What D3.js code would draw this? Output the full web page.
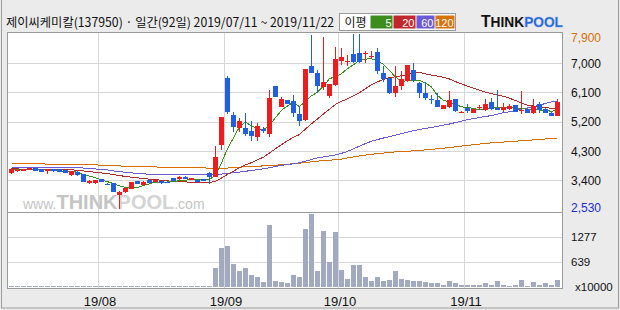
<!DOCTYPE html>
<html>
<head>
<meta charset="utf-8">
<script src="https://cdnjs.cloudflare.com/ajax/libs/d3/7.8.5/d3.min.js"></script>
<style>
  body { margin: 0; background: #ebebeb; }
  svg { display: block; }
  text { font-family: "Liberation Sans", Arial, sans-serif; }
</style>
</head>
<body>
<svg id="chart" width="620" height="310"></svg>
<script>
// ---- data ----
var stockName = "제이씨케미칼(137950) · 일간(92일) 2019/07/11 ~ 2019/11/22";

var tradeDays = [
  "07/11","07/12","07/15","07/16","07/17","07/18","07/19","07/22","07/23","07/24",
  "07/25","07/26","07/29","07/30","07/31","08/01","08/02","08/05","08/06","08/07",
  "08/08","08/09","08/12","08/13","08/14","08/16","08/19","08/20","08/21","08/22",
  "08/23","08/26","08/27","08/28","08/29","08/30","09/02","09/03","09/04","09/05",
  "09/06","09/09","09/10","09/11","09/16","09/17","09/18","09/19","09/20","09/23",
  "09/24","09/25","09/26","09/27","09/30","10/01","10/02","10/04","10/07","10/08",
  "10/10","10/11","10/14","10/15","10/16","10/17","10/18","10/21","10/22","10/23",
  "10/24","10/25","10/28","10/29","10/30","10/31","11/01","11/04","11/05","11/06",
  "11/07","11/08","11/11","11/12","11/13","11/14","11/15","11/18","11/19","11/20",
  "11/21","11/22"
];

var openP = [
  3650,3700,3710,3730,3780,3750,3710,3750,3750,3730,
  3570,3660,3600,3320,3320,3440,3310,3320,2960,3040,
  3160,3390,3270,3420,3370,3390,3370,3470,3440,3520,
  3420,3420,3440,3650,3520,4490,6540,5410,5030,5030,
  4920,4750,4990,4830,6300,5670,5870,5840,5440,5260,
  6920,6710,6280,6000,6350,7080,7030,7290,7310,7290,
  7220,7340,6710,6540,6100,6300,6470,6790,6400,6100,
  5900,5890,5600,5670,5900,5500,5640,5490,5630,5570,
  5820,5620,5570,5600,5720,5560,5600,5490,5750,5590,
  5490,5390
];
var highP = [
  3780,3750,3760,3790,3800,3760,3760,3770,3760,3740,
  3710,3700,3610,3410,3430,3450,3330,3330,3070,3190,
  3360,3400,3380,3430,3430,3400,3380,3480,3530,3530,
  3480,3430,3450,3660,4470,5360,6620,5520,5310,5490,
  5240,5160,5060,6180,6300,5980,5880,6030,5690,6830,
  7870,6790,7800,6370,7510,7460,7250,7900,7900,7390,
  7390,7460,6920,6560,6920,6760,6960,7000,6430,6420,
  6030,6080,5730,6150,5900,5540,5750,5600,5720,5920,
  5950,6180,5770,5750,5730,6150,5610,5920,5820,5630,
  5500,5900
];
var lowP = [
  3620,3680,3690,3720,3700,3670,3600,3680,3670,3640,
  3560,3540,3360,3300,3300,3360,3280,3050,2530,3030,
  3150,3290,3260,3330,3360,3310,3350,3390,3430,3450,
  3410,3340,3390,3300,3500,4340,5440,4900,4900,4770,
  4630,4630,4870,4730,5970,5650,5740,5340,5090,5230,
  6700,6100,6180,5930,6300,6950,6930,7020,7010,7020,
  7120,6660,6440,6070,5980,6180,6440,6420,5940,5870,
  5740,5660,5590,5620,5510,5500,5490,5470,5560,5540,
  5570,5570,5510,5570,5510,5460,5480,5460,5490,5480,
  5380,5380
];
var closeP = [
  3750,3730,3750,3780,3710,3680,3750,3690,3680,3650,
  3700,3570,3370,3400,3420,3370,3300,3060,3060,3180,
  3350,3300,3370,3340,3420,3320,3365,3400,3520,3460,
  3470,3350,3400,3500,4130,5360,5520,5060,5230,4830,
  4770,5080,4910,5930,5980,5900,5750,5490,5240,6830,
  6710,6310,6440,6360,7130,7180,7080,7050,7030,7310,
  7240,6770,6510,6080,6300,6520,6950,6490,6100,5930,
  5890,5670,5720,5890,5540,5520,5550,5600,5650,5750,
  5600,5570,5670,5700,5520,5580,5490,5690,5570,5490,
  5390,5820
];

// volume, unit x10000
var volume = [
  22,30,25,18,27,24,20,26,23,19,
  28,31,35,26,22,24,21,33,38,27,
  25,22,20,24,19,21,18,22,25,20,
  23,19,21,30,501,1013,1064,604,399,476,
  315,246,118,1601,143,118,92,297,246,1499,
  1875,399,1440,655,1422,442,212,553,553,246,
  143,246,143,169,417,212,187,143,160,135,
  92,92,59,143,92,59,58,61,57,92,
  60,143,59,33,59,169,33,118,59,92,
  59,169
];

// moving averages as drawn (5 / 20 / 60 / 120 days)
var ma5 = [
  3740,3735,3740,3745,3744,3730,3734,3722,3702,3690,
  3694,3658,3594,3538,3492,3426,3372,3310,3242,3194,
  3190,3190,3252,3308,3356,3350,3363,3369,3405,3413,
  3443,3440,3440,3436,3570,3948,4382,4714,5060,5200,
  5082,4994,4964,5104,5334,5560,5694,5810,5672,5842,
  6004,6116,6306,6530,6590,6684,6838,6960,7094,7130,
  7142,7080,6972,6782,6580,6436,6472,6468,6472,6398,
  6272,6016,5862,5820,5742,5668,5644,5620,5572,5614,
  5630,5634,5648,5658,5612,5608,5592,5596,5570,5564,
  5526,5592
];
var ma20 = [
  3760,3760,3758,3757,3755,3752,3750,3748,3745,3742,
  3735,3720,3700,3680,3660,3640,3615,3590,3560,3530,
  3510,3489,3470,3448,3433,3415,3396,3381,3373,3364,
  3352,3341,3343,3348,3383,3483,3594,3694,3802,3885,
  3956,4045,4122,4251,4379,4508,4628,4732,4818,4987,
  5149,5297,5449,5592,5742,5833,5911,6010,6100,6224,
  6348,6432,6512,6560,6590,6620,6660,6690,6720,6675,
  6640,6610,6570,6520,6440,6370,6300,6240,6180,6120,
  6070,6030,5990,5930,5860,5780,5720,5690,5660,5640,
  5625,5620
];
var ma60 = [
  3810,3810,3810,3808,3808,3808,3806,3806,3805,3805,
  3804,3802,3790,3775,3760,3745,3730,3700,3680,3660,
  3640,3625,3612,3600,3592,3586,3582,3580,3578,3577,
  3576,3576,3578,3582,3590,3605,3625,3645,3665,3690,
  3715,3740,3765,3800,3840,3870,3895,3920,3950,4000,
  4050,4100,4130,4160,4190,4240,4300,4380,4460,4540,
  4610,4665,4710,4750,4800,4845,4890,4935,4970,5005,
  5035,5070,5105,5140,5185,5230,5270,5305,5340,5370,
  5400,5445,5485,5515,5550,5595,5630,5670,5720,5770,
  5815,5840
];
var ma120 = [
  3930,3930,3930,3930,3930,3930,3900,3900,3900,3900,
  3900,3900,3900,3900,3900,3860,3860,3860,3860,3830,
  3830,3830,3830,3830,3830,3800,3800,3800,3800,3800,
  3800,3800,3800,3780,3780,3780,3790,3800,3815,3828,
  3835,3845,3855,3860,3875,3890,3905,3925,3940,3960,
  3980,4000,4015,4030,4045,4065,4100,4130,4160,4185,
  4210,4235,4250,4270,4285,4295,4305,4318,4330,4345,
  4360,4380,4400,4420,4440,4462,4483,4505,4525,4544,
  4560,4572,4585,4600,4613,4626,4640,4653,4667,4680,
  4697,4700
];

var priceTicks = [7000, 6100, 5200, 4300, 3400];
var priceHigh = 7900, priceLow = 2530;
var volTicks = [1277, 639];
var volTop = 1916;
var maLegend = [
  { label: "5",   color: "#3c8c1e" },
  { label: "20",  color: "#c1272d" },
  { label: "60",  color: "#6a5ad8" },
  { label: "120", color: "#d9700a" }
];
var maLineColors = ["#3c8c1e", "#b52a2a", "#6a5ad8", "#d96c00"];

// ---- layout ----
var svg = d3.select('#chart');
var pLeft = 7.5, pRight = 562.5, pTop = 32.5, pSplit = 212.5, pBottom = 288.5;

var x = d3.scaleBand().domain(d3.range(tradeDays.length)).range([8, 560]);
var y = d3.scaleLinear().domain([priceLow, priceHigh]).range([209.1, 34]);
var yv = d3.scaleLinear().domain([0, volTop]).range([287, 212.5]);

function crisp(v) { return Math.round(v - 0.5) + 0.5; }

// outer frame
svg.append('rect').attr('x', 1.5).attr('y', -1).attr('width', 617).attr('height', 309)
   .style('fill', '#ebebeb').style('stroke', '#9c9c9c');

// panels
svg.append('rect').attr('x', pLeft).attr('y', pTop).attr('width', pRight - pLeft).attr('height', pBottom - pTop)
   .style('fill', '#fff');

var grid = svg.append('g').attr('class', 'grid').style('shape-rendering', 'crispEdges');
grid.selectAll('line.hgrid').data(priceTicks).enter().append('line')
    .attr('x1', pLeft).attr('x2', pRight)
    .attr('y1', function(d) { return crisp(y(d)); }).attr('y2', function(d) { return crisp(y(d)); })
    .style('stroke', '#d6d6d6');
grid.selectAll('line.vgrid').data(volTicks).enter().append('line')
    .attr('x1', pLeft).attr('x2', pRight)
    .attr('y1', function(d) { return crisp(yv(d)); }).attr('y2', function(d) { return crisp(yv(d)); })
    .style('stroke', '#d6d6d6');

// month gridlines: first trading day of each month
var monthStarts = d3.range(1, tradeDays.length).filter(function(i) {
  return tradeDays[i].slice(0, 2) !== tradeDays[i - 1].slice(0, 2);
});
grid.selectAll('line.mgrid').data(monthStarts).enter().append('line')
    .attr('x1', function(i) { return x(i) + 0.5; }).attr('x2', function(i) { return x(i) + 0.5; })
    .attr('y1', pTop).attr('y2', pBottom)
    .style('stroke', '#d6d6d6');

// watermark
var wm = svg.append('text').attr('x', 23).attr('y', 209).style('fill', '#c4c4c4');
wm.append('tspan').style('font-size', '14px').text('www.');
wm.append('tspan').style('font-size', '20px').style('font-weight', 'bold').text('THINK');
wm.append('tspan').style('font-size', '20px').style('font-weight', 'bold').style('fill', '#d4d4d4').text('POOL');
wm.append('tspan').style('font-size', '14px').text('.com');

// volume bars
svg.append('g').selectAll('rect').data(volume).enter().append('rect')
   .attr('x', function(d, i) { return x(i) + 1; })
   .attr('width', 5)
   .attr('y', function(d) { return Math.min(yv(d), yv(0) - 1); })
   .attr('height', function(d) { return Math.max(1, yv(0) - yv(d)); })
   .style('fill', '#a2aac2')
   .style('shape-rendering', 'crispEdges');

// moving averages
svg.append('clipPath').attr('id', 'pclip').append('rect')
   .attr('x', pLeft).attr('y', pTop).attr('width', pRight - pLeft).attr('height', pSplit - pTop);
var maLine = d3.line().x(function(d, i) { return x(i) + 3.5; }).y(function(d) { return y(d); });
svg.append('g').attr('clip-path', 'url(#pclip)').selectAll('path').data([ma120, ma60, ma20, ma5]).enter()
   .append('path')
   .attr('d', maLine)
   .style('fill', 'none')
   .style('stroke', function(d, i) { return maLineColors[3 - i]; })
   .style('stroke-width', 1)
   .style('shape-rendering', 'crispEdges');

// candles
var candle = svg.append('g').attr('class', 'candles').style('shape-rendering', 'crispEdges')
   .selectAll('g.candle').data(tradeDays).enter().append('g').attr('class', 'candle');
function candleColor(i) { return closeP[i] >= openP[i] ? '#ee1c1c' : '#1f5fe0'; }
candle.append('line')
   .attr('x1', function(d, i) { return x(i) + 3.5; }).attr('x2', function(d, i) { return x(i) + 3.5; })
   .attr('y1', function(d, i) { return y(highP[i]); }).attr('y2', function(d, i) { return y(lowP[i]); })
   .style('stroke', function(d, i) { return candleColor(i); });
candle.append('rect')
   .attr('x', function(d, i) { return x(i) + 1; })
   .attr('width', 5)
   .attr('y', function(d, i) { return y(Math.max(openP[i], closeP[i])); })
   .attr('height', function(d, i) { return Math.max(1, Math.abs(y(openP[i]) - y(closeP[i]))); })
   .style('fill', function(d, i) { return candleColor(i); });

// panel borders
svg.append('rect').attr('x', pLeft).attr('y', pTop).attr('width', pRight - pLeft).attr('height', pSplit - pTop)
   .style('fill', 'none').style('stroke', '#9a9a9a');
svg.append('rect').attr('x', pLeft).attr('y', pSplit).attr('width', pRight - pLeft).attr('height', pBottom - pSplit)
   .style('fill', 'none').style('stroke', '#9a9a9a');

// right axis labels
var axis = svg.append('g').style('font-size', '12px');
axis.append('text').attr('x', 571).attr('y', y(priceHigh) + 4).attr('dy', '0.35em').style('fill', '#d9700a')
    .text(d3.format(',')(priceHigh));
axis.selectAll('text.pt').data(priceTicks).enter().append('text')
    .attr('x', 571).attr('y', function(d) { return y(d); }).attr('dy', '0.35em').style('fill', '#111')
    .text(d3.format(','));
axis.append('text').attr('x', 571).attr('y', y(priceLow) - 1).attr('dy', '0.35em').style('fill', '#1a2ecc')
    .text(d3.format(',')(priceLow));
axis.selectAll('text.vt').data(volTicks).enter().append('text')
    .attr('x', 571).attr('y', function(d) { return yv(d); }).attr('dy', '0.35em').style('fill', '#111')
    .style('font-size', '11.5px')
    .text(function(d) { return d; });
axis.append('text').attr('x', 575).attr('y', 287).attr('dy', '0.35em').style('fill', '#111')
    .style('font-size', '11.5px').text('x10000');

// month labels
svg.append('g').selectAll('text').data(monthStarts).enter().append('text')
   .attr('x', function(i) { return x(i) + 2; }).attr('y', 301).attr('dy', '0.35em')
   .attr('text-anchor', 'middle').style('font-size', '13px').style('fill', '#111')
   .text(function(i) { return '19/' + tradeDays[i].slice(0, 2); });

// header
svg.append('text').attr('x', 6).attr('y', 27)
   .style('font-family', '"Noto Sans CJK KR", sans-serif').style('font-size', '12.5px').style('fill', '#111')
   .attr('textLength', 328).attr('lengthAdjust', 'spacingAndGlyphs')
   .text(stockName);

var legend = svg.append('g').attr('transform', 'translate(339.5,13.5)');
legend.append('rect').attr('width', 116).attr('height', 17).style('fill', '#fff').style('stroke', '#999');
legend.append('text').attr('x', 5).attr('y', 13.5).style('font-family', '"Noto Sans CJK KR", sans-serif')
      .style('font-size', '12px').style('fill', '#111').text('이평');
var lx = [31, 54, 77, 96];
var lw = [22, 22, 18, 19];
legend.selectAll('rect.ma').data(maLegend).enter().append('rect')
      .attr('x', function(d, i) { return lx[i]; }).attr('y', 2).attr('width', function(d, i) { return lw[i]; }).attr('height', 13)
      .style('fill', function(d) { return d.color; });
legend.selectAll('text.ma').data(maLegend).enter().append('text')
      .attr('x', function(d, i) { return lx[i] + lw[i] - 1; }).attr('y', 13).attr('text-anchor', 'end')
      .style('font-size', '11px').style('fill', '#fff')
      .text(function(d) { return d.label; });

// logo
var logo = svg.append('text').attr('x', 481).attr('y', 27).style('font-weight', 'bold').style('font-size', '14px')
   .style('font-family', '"Liberation Sans", Arial, sans-serif')
   .attr('textLength', 82).attr('lengthAdjust', 'spacingAndGlyphs');
logo.append('tspan').style('fill', '#111').style('font-size', '16px').text('T');
logo.append('tspan').style('fill', '#111').text('HINK');
logo.append('tspan').style('fill', '#1a5fd6').style('stroke', '#7fa9ee').style('stroke-width', 0.4).text('POOL');
</script>
</body>
</html>
